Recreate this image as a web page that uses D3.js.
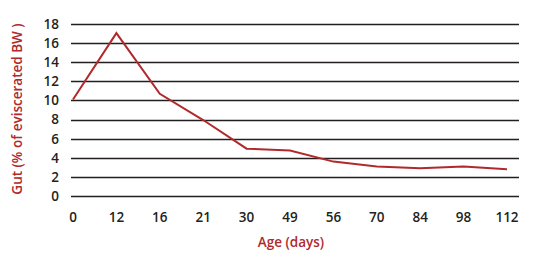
<!DOCTYPE html>
<html>
<head>
<meta charset="utf-8">
<script src="https://cdnjs.cloudflare.com/ajax/libs/d3/7.8.5/d3.min.js"></script>
<style>
  body { margin: 0; background: #fff; }
  svg text { font-family: "Open Sans", sans-serif; }
</style>
</head>
<body>
<svg id="chart" width="544" height="262"></svg>
<script>
// age categories (days) and gut weight, % of eviscerated BW
var ages = ["0", "12", "16", "21", "30", "49", "56", "70", "84", "98", "112"];
var gutPct = [10.1, 17.05, 10.7, 7.95, 4.95, 4.75, 3.6, 3.1, 2.9, 3.1, 2.8];
var yTicks = [0, 2, 4, 6, 8, 10, 12, 14, 16, 18];

var svg = d3.select("#chart"),
    gridLeft = 71,
    gridRight = 519,
    plotTop = 24,
    plotBottom = 196;

var x = d3.scalePoint()
    .domain(ages)
    .range([73, 507]);

var y = d3.scaleLinear()
    .domain([0, 18])
    .range([plotBottom, plotTop]);

// horizontal gridlines
svg.append("g")
    .selectAll("line")
    .data(yTicks)
    .enter().append("line")
    .attr("x1", gridLeft)
    .attr("x2", gridRight)
    .attr("y1", function (d) { return Math.round(y(d)) + 0.5; })
    .attr("y2", function (d) { return Math.round(y(d)) + 0.5; })
    .style("stroke", "#231f20")
    .style("stroke-width", 1.3);

// y tick labels
svg.append("g")
    .selectAll("text")
    .data(yTicks)
    .enter().append("text")
    .attr("x", 59)
    .attr("y", function (d) { return y(d); })
    .attr("dy", "0.36em")
    .style("text-anchor", "end")
    .style("font-size", "13.5px")
    .style("font-weight", 600)
    .style("fill", "#231f20")
    .text(function (d) { return d; });

// x tick labels
svg.append("g")
    .selectAll("text")
    .data(ages)
    .enter().append("text")
    .attr("x", function (d) { return x(d); })
    .attr("y", 222)
    .style("text-anchor", "middle")
    .style("font-size", "13.5px")
    .style("font-weight", 600)
    .style("fill", "#231f20")
    .text(function (d) { return d; });

// the line
var line = d3.line()
    .x(function (d, i) { return x(ages[i]); })
    .y(function (d) { return y(d); });

svg.append("path")
    .datum(gutPct)
    .attr("d", line)
    .style("fill", "none")
    .style("stroke", "#b02a2c")
    .style("stroke-width", 2)
    .style("stroke-linejoin", "miter");

// axis titles
svg.append("text")
    .attr("x", 291)
    .attr("y", 247)
    .style("text-anchor", "middle")
    .style("font-size", "13.5px")
    .style("font-weight", 600)
    .style("fill", "#b02a2c")
    .text("Age (days)");

svg.append("text")
    .attr("transform", "translate(22,109) rotate(-90)")
    .style("text-anchor", "middle")
    .style("font-size", "13.5px")
    .style("font-weight", 600)
    .style("fill", "#b02a2c")
    .text("Gut (% of eviscerated BW )");
</script>
</body>
</html>
